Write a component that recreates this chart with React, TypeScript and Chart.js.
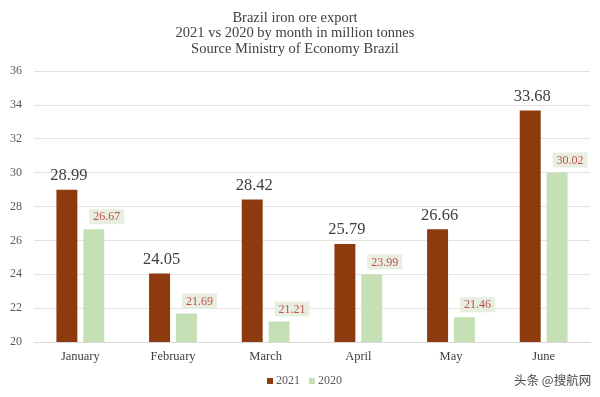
import React, { useEffect, useRef } from "react";
import { Chart, registerables } from "chart.js";

Chart.register(...registerables);

const months = ["January", "February", "March", "April", "May", "June"];
const values2021 = [28.99, 24.05, 28.42, 25.79, 26.66, 33.68];
const values2020 = [26.67, 21.69, 21.21, 23.99, 21.46, 30.02];
const seriesNames = ["2021", "2020"];
const seriesColors = ["#8c3a0e", "#c6e0b5"];
const titleLines = [
  "Brazil iron ore export",
  "2021 vs 2020 by month in million tonnes",
  "Source Ministry of Economy Brazil",
];
const yTicks = [20, 22, 24, 26, 28, 30, 32, 34, 36];

const FONT = "'Liberation Serif', 'Times New Roman', serif";

const labelPlugin = {
  id: "barLabels",
  afterDatasetsDraw(chart: any) {
    const ctx = chart.ctx;
    ctx.save();
    const m0 = chart.getDatasetMeta(0);
    m0.data.forEach((bar: any, i: number) => {
      const v = chart.data.datasets[0].data[i] as number;
      ctx.font = `16.5px ${FONT}`;
      ctx.fillStyle = "#404040";
      ctx.textAlign = "center";
      ctx.textBaseline = "middle";
      ctx.fillText(v.toFixed(2), bar.x + 2, bar.y - 14);
    });
    const m1 = chart.getDatasetMeta(1);
    m1.data.forEach((bar: any, i: number) => {
      const v = chart.data.datasets[1].data[i] as number;
      const txt = v.toFixed(2);
      ctx.font = `12px ${FONT}`;
      const w = ctx.measureText(txt).width + 8;
      const h = 15;
      const cx = bar.x + 13;
      const bottom = bar.y - 5;
      ctx.fillStyle = "#e8efe1";
      ctx.fillRect(cx - w / 2, bottom - h, w, h);
      ctx.fillStyle = "#c0504d";
      ctx.textAlign = "center";
      ctx.textBaseline = "middle";
      ctx.fillText(txt, cx, bottom - h / 2 + 0.5);
    });
    ctx.restore();
  },
  afterDraw(chart: any) {
    // legend
    const ctx = chart.ctx;
    ctx.save();
    ctx.font = `12px ${FONT}`;
    ctx.textBaseline = "middle";
    ctx.textAlign = "left";
    const y = 381;
    let x = 267;
    seriesNames.forEach((name, i) => {
      ctx.fillStyle = seriesColors[i];
      ctx.fillRect(x, y - 3, 6, 6);
      ctx.fillStyle = "#595959";
      ctx.fillText(name, x + 9, y);
      x += 9 + ctx.measureText(name).width + 9;
    });
    ctx.restore();
  },
};

export default function App() {
  const ref = useRef<HTMLCanvasElement | null>(null);
  useEffect(() => {
    if (!ref.current) return;
    const chart = new Chart(ref.current, {
      type: "bar",
      data: {
        labels: months,
        datasets: [
          {
            label: seriesNames[0],
            data: values2021,
            backgroundColor: seriesColors[0],
            borderWidth: 0,
            barPercentage: 0.78,
            categoryPercentage: 0.58,
          },
          {
            label: seriesNames[1],
            data: values2020,
            backgroundColor: seriesColors[1],
            borderWidth: 0,
            barPercentage: 0.78,
            categoryPercentage: 0.58,
          },
        ],
      },
      options: {
        responsive: false,
        animation: false,
        layout: { padding: { left: 0, right: 10, top: 6, bottom: 32 } },
        plugins: {
          title: {
            display: true,
            text: titleLines,
            color: "#404040",
            font: { family: FONT, size: 14.5, weight: "normal", lineHeight: 1.04 },
            padding: { top: 5, bottom: 15 },
          },
          legend: { display: false },
          tooltip: { enabled: false },
        },
        scales: {
          x: {
            grid: { display: false, drawTicks: false },
            border: { display: true, color: "#d9d9d9" },
            ticks: {
              color: "#404040",
              font: { family: FONT, size: 12.5 },
              padding: 7,
            },
            afterFit(axis: any) {
              axis.height = 23;
            },
          },
          y: {
            min: 20,
            max: 36,
            afterBuildTicks(axis: any) {
              axis.ticks = yTicks.map((v) => ({ value: v }));
            },
            afterFit(axis: any) {
              axis.width = 34;
            },
            grid: { color: "#e3e3e3", drawTicks: false },
            border: { display: false },
            ticks: {
              color: "#595959",
              font: { family: FONT, size: 12 },
              padding: 12,
            },
          },
        },
      },
      plugins: [labelPlugin],
    });
    return () => chart.destroy();
  }, []);
  return (
    <div
      style={{
        position: "fixed",
        left: 0,
        top: 0,
        width: 600,
        height: 397,
        background: "#ffffff",
      }}
    >
      <canvas ref={ref} width={600} height={397} />
      <span
        style={{
          position: "absolute",
          left: 514,
          top: 370,
          fontFamily: "'Noto Sans CJK SC', sans-serif",
          fontSize: 12.5,
          color: "#4a4a4a",
          textShadow: "0 0 2px #ffffff",
        }}
      >
        头条 @搜航网
      </span>
    </div>
  );
}
